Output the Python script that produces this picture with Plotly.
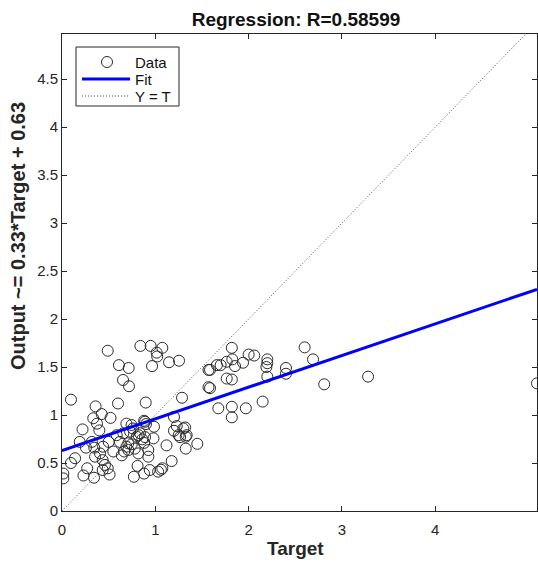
import plotly.graph_objects as go

target = [0.49,0.84,0.95,1.075,1.015,1.02,0.61,0.715,0.965,1.147,1.254,1.57,0.654,0.718,1.57,0.096,1.286,0.60,0.897,0.36,
          0.425,0.52,0.335,0.375,0.22,0.40,0.69,0.745,0.88,0.90,0.986,1.20,1.23,1.32,1.20,1.25,1.326,0.19,0.257,0.346,
          0.44,0.32,0.50,0.586,0.657,0.73,0.836,0.80,0.86,0.98,0.62,0.69,0.747,0.667,0.71,0.64,0.78,0.818,0.925,0.925,
          1.12,1.175,1.45,0.14,0.096,0.014,0.014,0.354,0.436,0.46,0.49,0.436,0.27,0.23,0.343,0.51,0.81,0.77,0.88,0.94,
          1.03,1.075,0.407,0.55,
          1.82,2.00,2.06,2.60,2.69,1.586,1.66,1.70,1.765,1.825,1.854,1.94,2.20,2.20,2.19,2.40,2.40,2.20,1.765,1.82,
          1.586,2.81,1.675,1.82,1.82,1.97,2.15,
          3.28,5.09,
          1.30,1.265,1.336,1.326,1.06,0.88,0.89,0.76,0.82,0.89,0.71]
output = [1.67,1.72,1.72,1.70,1.65,1.61,1.52,1.49,1.51,1.55,1.566,1.47,1.365,1.30,1.29,1.16,1.18,1.12,1.13,1.09,
          1.01,0.97,0.966,0.91,0.85,0.84,0.91,0.896,0.94,0.906,0.878,0.98,0.885,0.87,0.836,0.79,0.774,0.72,0.66,0.66,
          0.67,0.72,0.72,0.79,0.81,0.826,0.81,0.774,0.747,0.757,0.72,0.67,0.695,0.62,0.635,0.58,0.65,0.60,0.635,0.566,
          0.684,0.52,0.70,0.55,0.50,0.39,0.34,0.566,0.53,0.48,0.445,0.427,0.445,0.37,0.347,0.38,0.47,0.357,0.39,0.427,
          0.41,0.445,0.60,0.62,
          1.70,1.63,1.62,1.705,1.58,1.47,1.52,1.52,1.555,1.58,1.51,1.545,1.58,1.54,1.50,1.49,1.43,1.40,1.38,1.37,
          1.28,1.32,1.07,1.086,0.976,1.07,1.14,
          1.40,1.33,
          0.86,0.77,0.79,0.65,0.43,0.71,0.93,0.86,0.79,0.77,0.705]

slope = 0.33
intercept = 0.63
r_value = "0.58599"
x_max = 5.09
y_max = 4.97
x_ticks = [0, 1, 2, 3, 4]
y_ticks = [0, 0.5, 1, 1.5, 2, 2.5, 3, 3.5, 4, 4.5]
y_tick_text = ["0", "0.5", "1", "1.5", "2", "2.5", "3", "3.5", "4", "4.5"]
legend_labels = ["Data", "Fit", "Y = T"]

line_x = [0, x_max]
fit_y = [slope * v + intercept for v in line_x]

MARK_COLOR = "#2a2a2a"
FIT_COLOR = "#0000ff"
YT_COLOR = "#555555"
YT_DASH = "1px,2px"
FONT = "Liberation Sans, Arial"

fig = go.Figure()
fig.add_trace(go.Scatter(x=target, y=output, mode="markers", name="Data", showlegend=False,
                         marker=dict(symbol="circle-open", size=11, color=MARK_COLOR, line=dict(width=1))))
fig.add_trace(go.Scatter(x=line_x, y=fit_y, mode="lines", name="Fit", showlegend=False,
                         line=dict(color=FIT_COLOR, width=3)))
fig.add_trace(go.Scatter(x=line_x, y=line_x, mode="lines", name="Y = T", showlegend=False,
                         line=dict(color=YT_COLOR, width=1, dash=YT_DASH)))

W, H = 538, 565
L, R, T, B = 62, 1, 34, 54
pw = W - L - R
ph = H - T - B


def px(x):
    return (x - L) / pw


def py(y):
    return 1 - (y - T) / ph


axis_common = dict(showline=True, linecolor="#262626", linewidth=1, mirror="ticks",
                   ticks="inside", ticklen=5, tickcolor="#262626", showgrid=False, zeroline=False,
                   tickfont=dict(family=FONT, size=15, color="#262626"))

# custom legend (box, symbols, labels)
rows = [62, 79, 96]
shapes = [
    dict(type="rect", xref="paper", yref="paper", x0=px(76), x1=px(179), y0=py(106), y1=py(47),
         line=dict(color="#262626", width=1), fillcolor="white", layer="above"),
    dict(type="circle", xref="paper", yref="paper", xsizemode="pixel", ysizemode="pixel",
         xanchor=px(107), yanchor=py(rows[0]), x0=-5.5, x1=5.5, y0=-5.5, y1=5.5,
         line=dict(color=MARK_COLOR, width=1), layer="above"),
    dict(type="line", xref="paper", yref="paper", x0=px(82), x1=px(130), y0=py(rows[1]), y1=py(rows[1]),
         line=dict(color=FIT_COLOR, width=3), layer="above"),
    dict(type="line", xref="paper", yref="paper", x0=px(82), x1=px(130), y0=py(rows[2]), y1=py(rows[2]),
         line=dict(color=YT_COLOR, width=1, dash=YT_DASH), layer="above"),
]
legend_ann = [
    dict(text=lab, xref="paper", yref="paper", x=px(133), y=py(yy), xanchor="left", yanchor="middle",
         showarrow=False, font=dict(family=FONT, size=15, color="#111111"))
    for lab, yy in zip(legend_labels, rows)
]

fig.update_layout(
    width=W, height=H,
    margin=dict(l=L, r=R, t=T, b=B),
    paper_bgcolor="white", plot_bgcolor="white",
    title=dict(text="<b>Regression: R=" + r_value + "</b>", x=(296 - L) / pw, xref="paper",
               y=1 - 19 / H, yref="container", xanchor="center", yanchor="middle",
               font=dict(family=FONT, size=19, color="#111111")),
    xaxis=dict(range=[0, x_max], tickvals=x_ticks, ticklabelstandoff=5, **axis_common),
    yaxis=dict(range=[0, y_max], tickvals=y_ticks, ticktext=y_tick_text, **axis_common),
    showlegend=False,
    shapes=shapes,
    annotations=legend_ann + [
        dict(text="<b>Target</b>", xref="paper", yref="paper", x=(295 - L) / pw, y=py(548),
             xanchor="center", yanchor="middle", showarrow=False,
             font=dict(family=FONT, size=19, color="#262626")),
        dict(text="<b>Output ~= 0.33*Target + 0.63</b>", xref="paper", yref="paper",
             x=px(18), y=py(236), textangle=-90,
             xanchor="center", yanchor="middle", showarrow=False,
             font=dict(family=FONT, size=20, color="#262626")),
    ],
)

fig.write_html("out.html")
